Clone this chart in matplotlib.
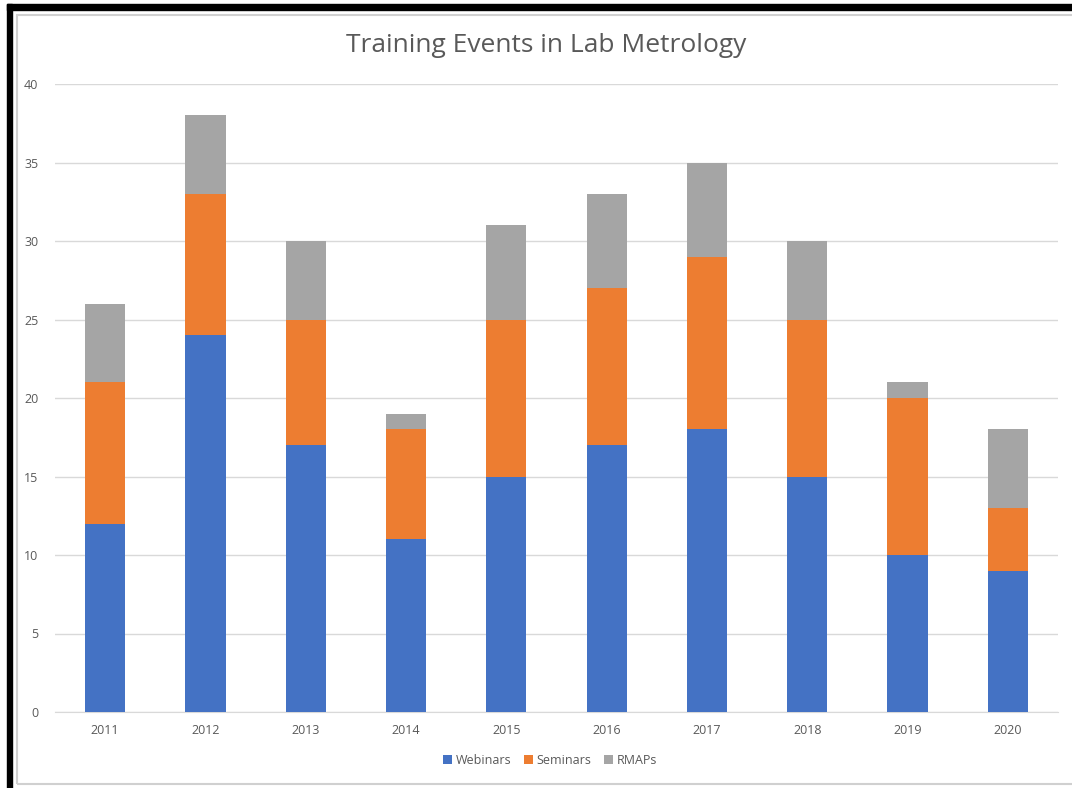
import matplotlib.pyplot as plt
from matplotlib.patches import Rectangle
import numpy as np

# ---------- data ----------
years = ["2011", "2012", "2013", "2014", "2015", "2016", "2017", "2018", "2019", "2020"]
webinars = [12, 24, 17, 11, 15, 17, 18, 15, 10, 9]
seminars = [9, 9, 8, 7, 10, 10, 11, 10, 10, 4]
rmaps = [5, 5, 5, 1, 6, 6, 6, 5, 1, 5]

BLUE = "#4472C4"
ORANGE = "#ED7D31"
GRAY = "#A5A5A5"
TXT = "#595959"

plt.rcParams['font.family'] = ['Open Sans', 'DejaVu Sans']

fig = plt.figure(figsize=(10.72, 7.88), dpi=100)
W, H = 1072, 788

# ---------- frame (screenshot borders) ----------
fig.patches.append(Rectangle((7 / W, 0), 5 / W, 1 - 4 / H, transform=fig.transFigure,
                             color="black", zorder=0))
fig.patches.append(Rectangle((7 / W, 1 - 10 / H), 1, 6 / H, transform=fig.transFigure,
                             color="black", zorder=0))
fig.patches.append(Rectangle((17 / W, 4 / H), 1.2, 1 - 19 / H, transform=fig.transFigure,
                             fill=False, edgecolor="#D0D0D0", linewidth=1.5, zorder=0))

# ---------- axes ----------
ax = fig.add_axes([55 / W, 76 / H, 1003 / W, 628 / H])
x = np.arange(len(years))
w = 0.4
ax.bar(x, webinars, w, color=BLUE, label="Webinars", zorder=3)
ax.bar(x, seminars, w, bottom=webinars, color=ORANGE, label="Seminars", zorder=3)
bot2 = np.array(webinars) + np.array(seminars)
ax.bar(x, rmaps, w, bottom=bot2, color=GRAY, label="RMAPs", zorder=3)

ax.set_xlim(-0.5, len(years) - 0.5)
ax.set_ylim(0, 40)
ax.set_yticks(range(0, 41, 5))
ax.set_xticks(x)
ax.set_xticklabels(years)
ax.grid(axis="y", color="#D9D9D9", linewidth=1, zorder=0)
for s in ["top", "right", "left"]:
    ax.spines[s].set_visible(False)
ax.spines["bottom"].set_color("#D9D9D9")
ax.tick_params(axis="both", length=0, colors=TXT, labelsize=9)
ax.tick_params(axis="y", pad=12)
ax.tick_params(axis="x", pad=9)

fig.text(546 / W, 1 - 46 / H, "Training Events in Lab Metrology", ha="center", va="center",
         fontsize=19, color=TXT)

ax.legend(loc="center", bbox_to_anchor=(550 / W, 1 - 760 / H), bbox_transform=fig.transFigure,
          ncol=3, frameon=False, fontsize=9, labelcolor=TXT, handlelength=0.7, handleheight=0.7,
          handletextpad=0.3, columnspacing=1.0)

fig.savefig("out.png", dpi=100)
